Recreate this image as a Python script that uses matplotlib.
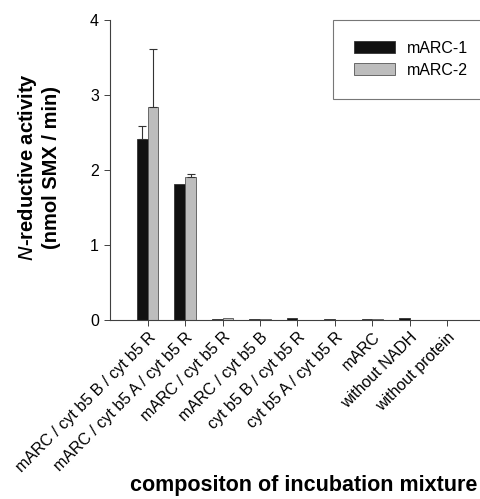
import numpy as np
import matplotlib
matplotlib.use('Agg')
from matplotlib import pyplot as plt

plt.rcParams['font.family'] = ['Liberation Sans', 'DejaVu Sans']

categories = ['mARC / cyt b5 B / cyt b5 R', 'mARC / cyt b5 A / cyt b5 R',
              'mARC / cyt b5 R', 'mARC / cyt b5 B', 'cyt b5 B / cyt b5 R',
              'cyt b5 A / cyt b5 R', 'mARC', 'without NADH', 'without protein']
marc1 = [2.41, 1.81, 0.01, 0.015, 0.02, 0.01, 0.01, 0.02, 0.0]
marc1_err = [0.17, 0.0, 0.0, 0.0, 0.0, 0.0, 0.0, 0.0, 0.0]
marc2 = [2.84, 1.90, 0.02, 0.015, 0.0, 0.0, 0.015, 0.0, 0.0]
marc2_err = [0.77, 0.05, 0.0, 0.0, 0.0, 0.0, 0.0, 0.0, 0.0]

fig = plt.figure(figsize=(4.81, 4.99), dpi=100)
ax = fig.add_axes([0.229, 0.359, 0.771, 0.601])

x = np.arange(len(categories))
w = 0.29
axis_col = '#404040'
ax.bar(x - w / 2, marc1, w, color='#111111', edgecolor='#333333', linewidth=0.6,
       label='mARC-1')
ax.bar(x + w / 2, marc2, w, color='#bdbdbd', edgecolor='#555555', linewidth=0.6,
       label='mARC-2')
for xi, v, e in zip(x - w / 2, marc1, marc1_err):
  if e > 0:
    ax.errorbar(xi, v, yerr=[[0], [e]], fmt='none', ecolor='#333333',
                elinewidth=0.8, capsize=3, capthick=0.8)
for xi, v, e in zip(x + w / 2, marc2, marc2_err):
  if e > 0:
    ax.errorbar(xi, v, yerr=[[0], [e]], fmt='none', ecolor='#333333',
                elinewidth=0.8, capsize=3, capthick=0.8)

ax.set_xlim(-1.0, 8.9)
ax.set_ylim(0, 4)
ax.set_yticks([0, 1, 2, 3, 4])
ax.set_xticks(x)
ax.set_xticklabels(categories, rotation=45, ha='right', rotation_mode='anchor',
                   fontsize=11.5)
ax.tick_params(axis='y', labelsize=11.5, length=4, width=0.7, color=axis_col,
               pad=4, direction='out')
ax.tick_params(axis='x', length=4, width=0.7, color=axis_col, pad=3,
               direction='out')
for side in ['top', 'right']:
  ax.spines[side].set_visible(False)
for side in ['left', 'bottom']:
  ax.spines[side].set_color(axis_col)
  ax.spines[side].set_linewidth(0.8)

fig.text(0.08, 0.665, r'$\bf{\it{N}}$' + '-reductive activity\n(nmol SMX / min)',
         rotation=90, ha='center', va='center', fontsize=14.5, fontweight='bold',
         linespacing=1.25)
fig.text(0.632, 0.028, 'compositon of incubation mixture', ha='center',
         va='center', fontsize=15.5, fontweight='bold')

leg = ax.legend(loc='upper right', bbox_to_anchor=(1.02, 1.0), frameon=True,
                fancybox=False, fontsize=11.5, handlelength=2.6,
                handleheight=0.8, handletextpad=0.7, borderpad=1.3,
                labelspacing=0.45, borderaxespad=0)
leg.get_frame().set_edgecolor('#555555')
leg.get_frame().set_linewidth(0.8)

fig.savefig('out.png', dpi=100)
